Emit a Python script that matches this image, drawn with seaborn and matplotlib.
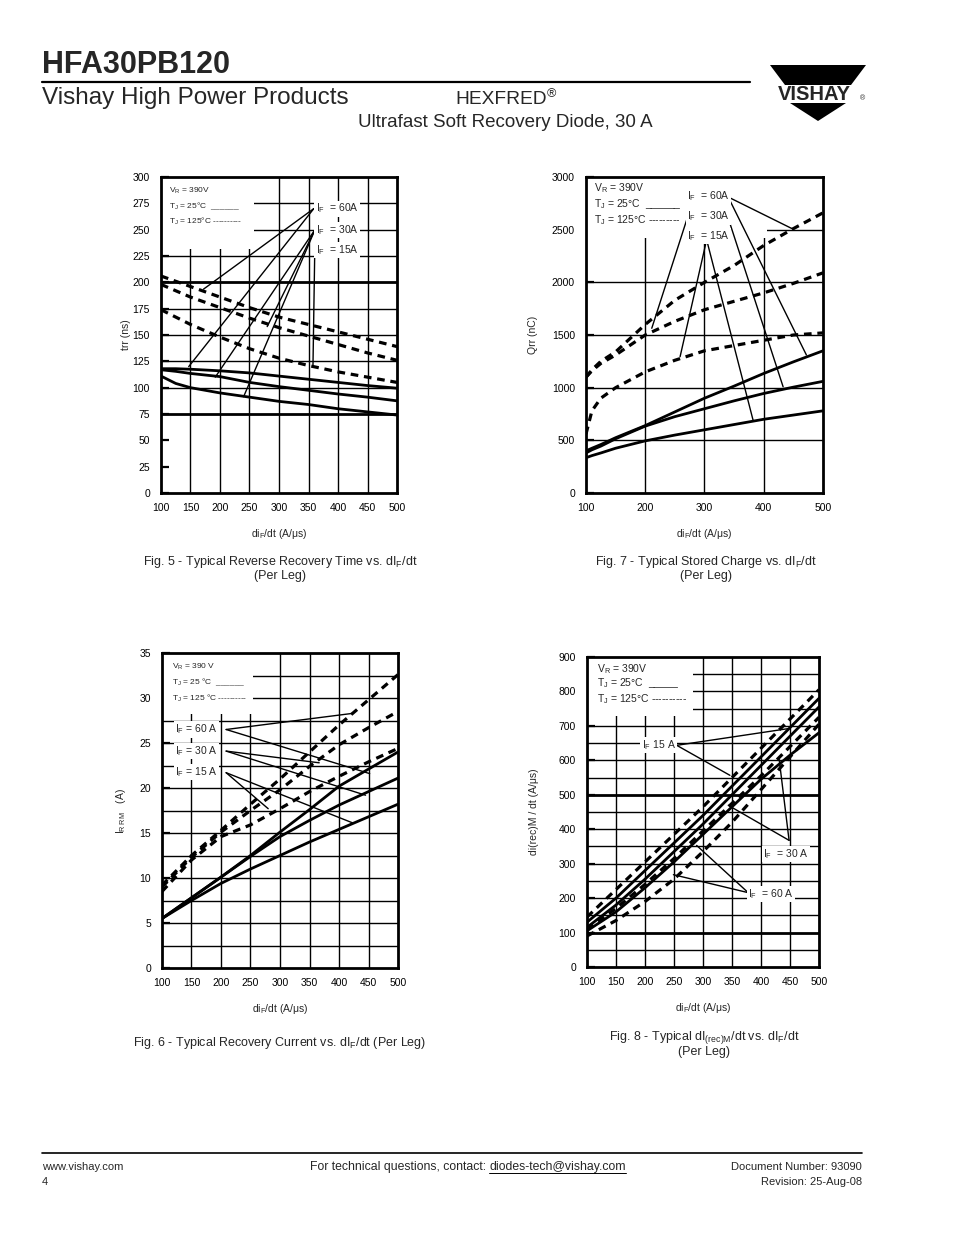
import matplotlib
matplotlib.use("Agg")
import matplotlib.pyplot as plt
import seaborn as sns
from matplotlib.patches import Rectangle, Polygon
from matplotlib.lines import Line2D

# ---------------- data ----------------
X9 = [100, 150, 200, 250, 300, 350, 400, 450, 500]

# Fig. 5  trr (ns)
X5 = [100, 125, 150, 200, 250, 300, 350, 400, 450, 500]
trr_60_25 = [118, 118, 117.5, 116, 114, 111, 108, 105, 102, 99.5]
trr_30_25 = [117, 115.5, 113.5, 110.5, 105, 101, 97.5, 94, 91, 87.5]
trr_15_25 = [111, 104, 100, 95, 91, 87, 84, 80, 77, 74]
trr_60_125 = [206, 201, 196, 186, 176, 167, 160, 153, 146, 139]
trr_30_125 = [198, 192, 186, 176, 166, 157, 149, 141, 133, 126]
trr_15_125 = [174, 167, 160, 148, 137, 128, 121, 115, 110, 105]

# Fig. 7  Qrr (nC)
X11 = [100, 110, 125, 150, 200, 250, 300, 350, 400, 450, 500]
qrr_60_125 = [1100, 1170, 1250, 1340, 1600, 1830, 2000, 2160, 2350, 2510, 2660]
qrr_30_125 = [1100, 1160, 1230, 1310, 1500, 1630, 1740, 1820, 1900, 1990, 2090]
qrr_15_125 = [560, 780, 900, 1000, 1150, 1260, 1350, 1400, 1450, 1500, 1520]
qrr_60_25 = [400, 425, 460, 525, 640, 770, 900, 1015, 1135, 1245, 1350]
qrr_30_25 = [380, 410, 445, 515, 635, 725, 800, 875, 945, 1005, 1060]
qrr_15_25 = [335, 355, 380, 425, 495, 550, 600, 650, 700, 740, 780]

# Fig. 6  IRRM (A)
irrm_60_125 = [9.2, 12.5, 15.3, 18.2, 21.0, 24.0, 27.0, 29.8, 32.6]
irrm_30_125 = [9.0, 12.3, 15.1, 17.5, 19.8, 22.4, 24.8, 26.7, 28.5]
irrm_15_125 = [8.5, 12.0, 14.6, 15.9, 17.7, 19.6, 21.3, 22.9, 24.4]
irrm_60_25 = [5.5, 7.8, 10.1, 12.5, 15.1, 17.6, 20.2, 22.1, 24.0]
irrm_30_25 = [5.5, 7.8, 10.1, 12.4, 14.6, 16.4, 18.1, 19.6, 21.1]
irrm_15_25 = [5.5, 7.5, 9.4, 11.0, 12.5, 14.0, 15.4, 16.8, 18.2]

# Fig. 8  dI(rec)M/dt (A/us)
didt_15_125 = [145, 225, 305, 385, 465, 550, 635, 720, 805]
didt_15_25 = [130, 200, 280, 360, 440, 525, 610, 695, 780]
didt_30_25 = [115, 180, 255, 335, 415, 500, 585, 670, 755]
didt_30_125 = [110, 170, 240, 315, 395, 475, 555, 640, 725]
didt_60_125 = [90, 135, 190, 255, 335, 420, 515, 610, 705]
didt_60_25 = [105, 160, 230, 305, 385, 465, 545, 615, 680]

# ticks / grids
xt_50 = [100, 150, 200, 250, 300, 350, 400, 450, 500]
xt_100 = [100, 200, 300, 400, 500]
yt5 = [0, 25, 50, 75, 100, 125, 150, 175, 200, 225, 250, 275, 300]
yt7 = [0, 500, 1000, 1500, 2000, 2500, 3000]
yt6 = [0, 5, 10, 15, 20, 25, 30, 35]
yt8 = [0, 100, 200, 300, 400, 500, 600, 700, 800, 900]
hgrid5 = [75, 100, 125, 150, 175, 200, 225, 250, 275]
hgrid7 = [500, 1000, 1500, 2000, 2500]
hgrid6 = [2.5, 5, 7.5, 10, 12.5, 15, 17.5, 20, 22.5, 25, 27.5, 30, 32.5]
hgrid8 = [50, 100, 150, 200, 250, 300, 350, 400, 450, 500, 550, 600, 650, 700, 750, 800, 850]

# ---------------- style ----------------
sns.set_theme(style="white")
plt.rcParams['font.family'] = ['Liberation Sans', 'DejaVu Sans']
plt.rcParams['mathtext.default'] = 'regular'

W, H = 954, 1235
fig = plt.figure(figsize=(W / 100, H / 100), dpi=100)
fig.patch.set_facecolor('white')

def px(x, y):
    return x / W, 1 - y / H

def add_axes(x0, y0, x1, y1):
    return fig.add_axes([x0 / W, 1 - y1 / H, (x1 - x0) / W, (y1 - y0) / H])

DASH = (0, (2.4, 1.8))

def curve(ax, x, y, dashed):
    sns.lineplot(x=x, y=y, ax=ax, color='black', lw=2.3 if dashed else 2.0,
                 linestyle=DASH if dashed else '-', zorder=3, legend=False)

def setup(ax, xlim, ylim, xticks, yticks, hgrid, vgrid, thick=()):
    ax.set_xlim(*xlim)
    ax.set_ylim(*ylim)
    ax.set_xticks(xticks)
    ax.set_yticks(yticks)
    ax.set_xticklabels([str(v) for v in xticks])
    ax.set_yticklabels([str(v) for v in yticks])
    for s in ax.spines.values():
        s.set_linewidth(2.0)
        s.set_color('black')
    ax.tick_params(axis='y', direction='in', length=6, width=1.6, pad=8,
                   labelsize=7.5, colors='black', left=True)
    ax.tick_params(axis='x', length=0, pad=7, labelsize=7.5, colors='black')
    for v in hgrid:
        ax.axhline(v, color='black', lw=2.0 if v in thick else 1.0, zorder=1)
    for v in vgrid:
        ax.axvline(v, color='black', lw=1.0, zorder=1)
    ax.set_facecolor('white')

def whitebox(ax, x0, x1, y0, y1):
    ax.add_patch(Rectangle((x0, y0), x1 - x0, y1 - y0, facecolor='white',
                           edgecolor='none', zorder=1.5))

def leader(ax, p0, p1):
    ax.add_line(Line2D([p0[0], p1[0]], [p0[1], p1[1]], color='black',
                       lw=1.0, zorder=2.5))

def lab(ax, x, y, s, size=7.5):
    ax.text(x, y, s, fontsize=size, ha='left', va='center', zorder=4,
            bbox=dict(facecolor='white', edgecolor='none', pad=0.8))

# ---------------- Fig. 5 ----------------
ax5 = add_axes(161, 177, 397, 493)
setup(ax5, (100, 500), (0, 300), xt_50, yt5, hgrid5, xt_50[1:-1], thick=(75, 200))
whitebox(ax5, 100, 258, 232, 300)
for ys, d in [(trr_60_125, True), (trr_30_125, True), (trr_15_125, True),
              (trr_60_25, False), (trr_30_25, False), (trr_15_25, False)]:
    curve(ax5, X5, ys, d)
ax5.text(113, 287, 'V$_R$ = 390V', fontsize=6, va='center', zorder=4)
ax5.text(113, 272, 'T$_J$ = 25°C  ______', fontsize=6, va='center', zorder=4)
ax5.text(113, 258, 'T$_J$ = 125°C ----------', fontsize=6, va='center', zorder=4)
lab(ax5, 362, 270, 'I$_F$  = 60A')
lab(ax5, 362, 250, 'I$_F$  = 30A')
lab(ax5, 362, 231, 'I$_F$  = 15A')
for p in [(172, 193.5), (147, 120)]:
    leader(ax5, (359, 270), p)
for p in [(280, 158), (192, 110), (240, 91.4)]:
    leader(ax5, (361, 250), p)
leader(ax5, (360.5, 226), (357.6, 121.5))
ax5.set_xlabel('di$_F$/dt (A/μs)', fontsize=7.5, labelpad=10)
ax5.set_ylabel('trr (ns)', fontsize=7.5, labelpad=1)

# ---------------- Fig. 7 ----------------
ax7 = add_axes(586, 177, 823, 493)
setup(ax7, (100, 500), (0, 3000), xt_100, yt7, hgrid7, xt_100[1:-1])
whitebox(ax7, 100, 405, 2420, 3000)
for ys, d in [(qrr_60_125, True), (qrr_30_125, True), (qrr_15_125, True),
              (qrr_60_25, False), (qrr_30_25, False), (qrr_15_25, False)]:
    curve(ax7, X11, ys, d)
ax7.text(113, 2890, 'V$_R$ = 390V', fontsize=7.5, va='center', zorder=4)
ax7.text(113, 2740, 'T$_J$ = 25°C  ______', fontsize=7.5, va='center', zorder=4)
ax7.text(113, 2595, 'T$_J$ = 125°C ---------', fontsize=7.5, va='center', zorder=4)
lab(ax7, 270, 2815, 'I$_F$  = 60A')
lab(ax7, 270, 2625, 'I$_F$  = 30A')
lab(ax7, 270, 2440, 'I$_F$  = 15A')
for p in [(449.5, 2505), (472, 1310)]:
    leader(ax7, (340, 2810), p)
leader(ax7, (270, 2594), (211, 1564))
leader(ax7, (340, 2610), (432.7, 1008))
for p in [(258.8, 1294), (382, 691)]:
    leader(ax7, (303.6, 2404), p)
ax7.set_xlabel('di$_F$/dt (A/μs)', fontsize=7.5, labelpad=10)
ax7.set_ylabel('Qrr (nC)', fontsize=7.5, labelpad=10)

# ---------------- Fig. 6 ----------------
ax6 = add_axes(162, 653, 398, 968)
setup(ax6, (100, 500), (0, 35), xt_50, yt6, hgrid6, xt_50[1:-1])
whitebox(ax6, 100, 255, 28.2, 35)
for ys, d in [(irrm_60_125, True), (irrm_30_125, True), (irrm_15_125, True),
              (irrm_60_25, False), (irrm_30_25, False), (irrm_15_25, False)]:
    curve(ax6, X9, ys, d)
ax6.text(117, 33.5, 'V$_R$ = 390 V', fontsize=6, va='center', zorder=4)
ax6.text(117, 31.7, 'T$_J$ = 25 °C  ______', fontsize=6, va='center', zorder=4)
ax6.text(117, 30.0, 'T$_J$ = 125 °C ----------', fontsize=6, va='center', zorder=4)
lab(ax6, 122, 26.5, 'I$_F$ = 60 A')
lab(ax6, 122, 24.1, 'I$_F$ = 30 A')
lab(ax6, 122, 21.8, 'I$_F$ = 15 A')
for p in [(424, 28.3), (452, 21.6)]:
    leader(ax6, (208.7, 26.5), p)
for p in [(366.5, 22.8), (445, 19.2)]:
    leader(ax6, (208.7, 24.1), p)
for p in [(280, 17.7), (424, 16.1)]:
    leader(ax6, (208.7, 21.7), p)
ax6.set_xlabel('di$_F$/dt (A/μs)', fontsize=7.5, labelpad=10)
ax6.set_ylabel('I$_{R\\,R\\,M}$   (A)', fontsize=7.5, labelpad=8)

# ---------------- Fig. 8 ----------------
ax8 = add_axes(587, 657, 819, 967)
setup(ax8, (100, 500), (0, 900), xt_50, yt8, hgrid8, xt_50[1:-1], thick=(100, 500))
whitebox(ax8, 100, 283, 729, 900)
for ys, d in [(didt_15_125, True), (didt_30_125, True), (didt_60_125, True),
              (didt_15_25, False), (didt_30_25, False), (didt_60_25, False)]:
    curve(ax8, X9, ys, d)
ax8.text(117, 866, 'V$_R$ = 390V', fontsize=7.5, va='center', zorder=4)
ax8.text(117, 823, 'T$_J$ = 25°C  _____', fontsize=7.5, va='center', zorder=4)
ax8.text(117, 779, 'T$_J$ = 125°C ----------', fontsize=7.5, va='center', zorder=4)
lab(ax8, 194, 644, 'I$_F$ 15 A')
lab(ax8, 404, 329, 'I$_F$  = 30 A')
lab(ax8, 378, 213, 'I$_F$  = 60 A')
for p in [(446.7, 692), (346.4, 556.5)]:
    leader(ax8, (254.7, 643.6), p)
for p in [(431.2, 604.8), (343.6, 469.4)]:
    leader(ax8, (448.4, 367.7), p)
for p in [(289, 353), (249, 268)]:
    leader(ax8, (378, 215.8), p)
ax8.set_xlabel('di$_F$/dt (A/μs)', fontsize=7.5, labelpad=10)
ax8.set_ylabel('di(rec)M / dt (A/μs)', fontsize=7.5, labelpad=14)

# ---------------- captions ----------------
cap = dict(fontsize=9, ha='center', va='center')
fig.text(*px(280, 562), 'Fig. 5 - Typical Reverse Recovery Time vs. dI$_F$/dt', **cap)
fig.text(*px(280, 576), '(Per Leg)', **cap)
fig.text(*px(706, 562), 'Fig. 7 - Typical Stored Charge vs. dI$_F$/dt', **cap)
fig.text(*px(706, 576), '(Per Leg)', **cap)
fig.text(*px(280, 1043), 'Fig. 6 - Typical Recovery Current vs. dI$_F$/dt (Per Leg)', **cap)
fig.text(*px(704, 1038), 'Fig. 8 - Typical dI$_{(rec)M}$/dt vs. dI$_F$/dt', **cap)
fig.text(*px(704, 1052), '(Per Leg)', **cap)

# ---------------- header ----------------
fig.text(*px(42, 73), 'HFA30PB120', fontsize=22, fontweight='bold', va='baseline')
fig.add_artist(Line2D([42 / W, 750 / W], [1 - 82 / H, 1 - 82 / H], color='black', lw=1.6))
fig.text(*px(42, 104), 'Vishay High Power Products', fontsize=17.5, va='baseline')
th = fig.text(*px(455, 104), 'HEXFRED', fontsize=13.8, va='baseline')
fig.text(*px(358, 127), 'Ultrafast Soft Recovery Diode, 30 A', fontsize=13.5, va='baseline')

# logo
fig.add_artist(Polygon([px(770, 65), px(866, 65), px(851, 85), px(785, 85)],
                       closed=True, transform=fig.transFigure, facecolor='black', edgecolor='none'))
fig.text(*px(814, 100.5), 'VISHAY', fontsize=14.5, fontweight='heavy', ha='center', va='baseline')
fig.text(*px(860, 100), '®', fontsize=5, ha='left', va='baseline')
fig.add_artist(Polygon([px(790, 103), px(846, 103), px(818, 121)],
                       closed=True, transform=fig.transFigure, facecolor='black', edgecolor='none'))

# ---------------- footer ----------------
fig.add_artist(Line2D([42 / W, 862 / W], [1 - 1153 / H, 1 - 1153 / H], color='black', lw=1.2))
ft = dict(fontsize=8, va='baseline')
fig.text(*px(42, 1170), 'www.vishay.com', **ft)
fig.text(*px(42, 1185), '4', **ft)
t1 = fig.text(*px(310, 1170), 'For technical questions, contact: ', fontsize=8.8, va='baseline')
fig.canvas.draw()
bbh = th.get_window_extent()
fig.text(bbh.x1 / W + 0.0005, 1 - 97 / H, '®', fontsize=9, va='baseline')
bb = t1.get_window_extent()
t2 = fig.text(bb.x1 / W, 1 - 1170 / H, 'diodes-tech@vishay.com', fontsize=8.8, va='baseline')
fig.canvas.draw()
bb2 = t2.get_window_extent()
fig.add_artist(Line2D([bb2.x0 / W, bb2.x1 / W], [(1 - 1172.5 / H)] * 2, color='black', lw=0.7))
fig.text(*px(862, 1170), 'Document Number: 93090', ha='right', **ft)
fig.text(*px(862, 1185), 'Revision: 25-Aug-08', ha='right', **ft)

fig.savefig('out.png', dpi=100, facecolor='white')
